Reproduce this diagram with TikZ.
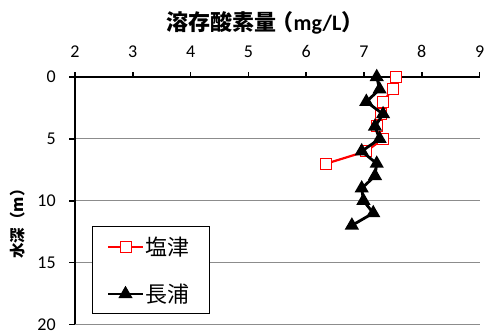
\documentclass[tikz,border=0pt]{standalone}
\usepackage{fontspec}
\setmainfont{Carlito}
\newfontfamily\cjk{Noto Sans CJK JP}
\usetikzlibrary{shapes.geometric}
\begin{document}
\begin{tikzpicture}[x=1pt,y=-1pt,
  gridline/.style={draw=black!45, line width=1pt},
  axisline/.style={line width=1.6pt, black},
  tlab/.style={font=\fontsize{18}{18}\selectfont, inner sep=0pt},
  sq/.style={rectangle, draw=red, fill=white, line width=1pt, minimum size=11pt, inner sep=0pt},
  tri/.style={regular polygon, regular polygon sides=3, fill=black, minimum size=16.5pt, inner sep=0pt},
  redline/.style={draw=red, line width=2.2pt},
  blackline/.style={draw=black, line width=2.8pt}]
\useasboundingbox (0,0) rectangle (494,334);
% title and axis label
\node[inner sep=0pt] (title) at (265,23) {\fontsize{22}{22}\selectfont\cjk\bfseries 溶存酸素量\kern-5pt（{\rmfamily\bfseries mg/L}）};
\node[inner sep=0pt, rotate=90] (ylab) at (18,220) {\fontsize{15.5}{15.5}\selectfont\cjk\bfseries 水深（m）};
\begin{scope}[shift={(-40.6,77)}, x=57.8pt, y=-12.37pt]
  \foreach \d in {5,10,15,20} \draw[gridline] (2,\d) -- (9,\d);
  \draw[axisline] (2,0) -- (9,0);
  \draw[axisline] (2,0) -- (2,20);
  \foreach \v in {2,...,9} {
    \draw[axisline] (\v,0) -- (\v,-0.4);
    \node[tlab, anchor=south] (xl\v) at (\v,-1.58) {\v};
  }
  \foreach \d in {0,5,10,15,20} {
    \draw[axisline] (2,\d) -- (1.89,\d);
    \node[tlab, anchor=east] (yl\d) at (1.67,\d) {\d};
  }
  % Shiozu
  \coordinate (s0) at (7.55,0);
  \coordinate (s1) at (7.5,1);
  \coordinate (s2) at (7.32,2);
  \coordinate (s3) at (7.3,3);
  \coordinate (s4) at (7.22,4);
  \coordinate (s5) at (7.33,5);
  \coordinate (s6) at (7.04,6);
  \coordinate (s7) at (6.35,7);
  \draw[redline, line join=round] (s0) -- (s1) -- (s2) -- (s3) -- (s4) -- (s5) -- (s6) -- (s7);
  \foreach \i in {0,...,7} \node[sq] (S\i) at (s\i) {};
  % Nagaura
  \coordinate (n0) at (7.22,0);
  \coordinate (n1) at (7.27,1);
  \coordinate (n2) at (7.04,2);
  \coordinate (n3) at (7.33,3);
  \coordinate (n4) at (7.19,4);
  \coordinate (n5) at (7.27,5);
  \coordinate (n6) at (6.96,6);
  \coordinate (n7) at (7.22,7);
  \coordinate (n8) at (7.19,8);
  \coordinate (n9) at (6.96,9);
  \coordinate (n10) at (6.99,10);
  \coordinate (n11) at (7.16,11);
  \coordinate (n12) at (6.79,12);
  \draw[blackline, line join=round] (n0) -- (n1) -- (n2) -- (n3) -- (n4) -- (n5) -- (n6) -- (n7) -- (n8) -- (n9) -- (n10) -- (n11) -- (n12);
  \foreach \i in {0,...,12} \node[tri] (N\i) at (n\i) {};
\end{scope}
% legend
\draw[line width=0.8pt, fill=white] (92,226) rectangle (209,313);
\coordinate (la1) at (108,247); \coordinate (lb1) at (143,247);
\coordinate (la2) at (108,294); \coordinate (lb2) at (143,294);
\draw[redline] (la1) -- (lb1);
\node[sq] (lsq) at (125.5,247) {};
\node[anchor=west, inner sep=0pt] (lt1) at (145,247) {\fontsize{22}{22}\selectfont\cjk 塩津};
\draw[blackline] (la2) -- (lb2);
\node[tri] (ltri) at (125.5,294) {};
\node[anchor=west, inner sep=0pt] (lt2) at (145,294) {\fontsize{22}{22}\selectfont\cjk 長浦};
\end{tikzpicture}
\end{document}
